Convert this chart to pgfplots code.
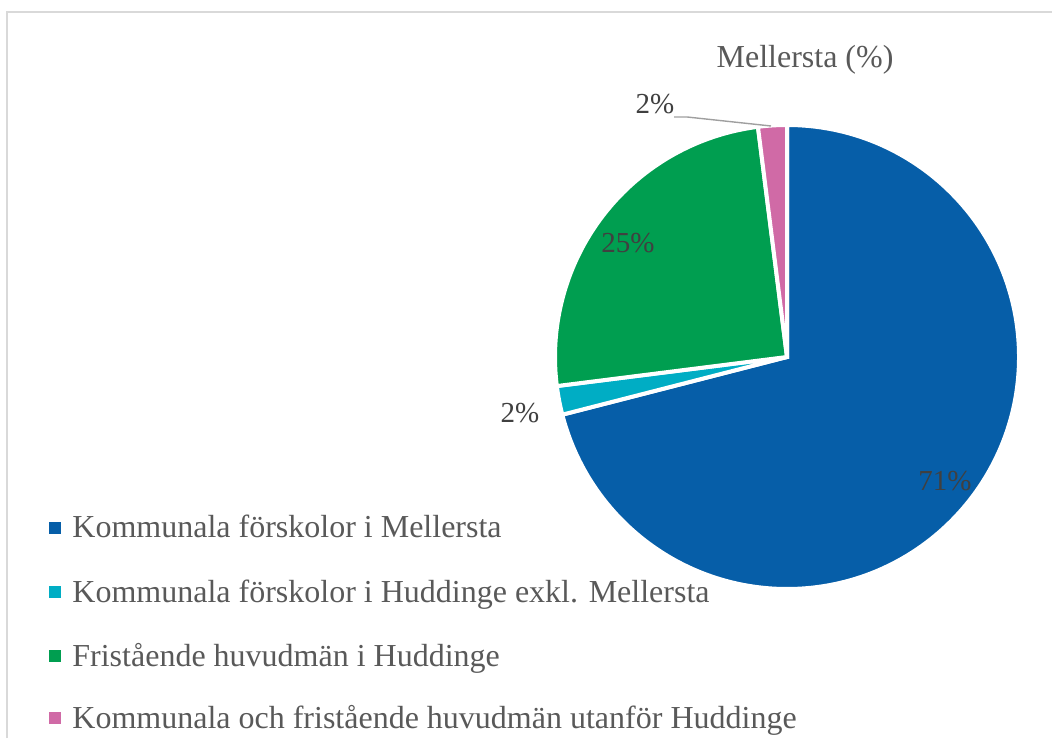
\documentclass[border=0pt]{standalone}
\usepackage{fontspec}
\setmainfont{Liberation Serif}
\usepackage{pgfplots}
\pgfplotsset{compat=1.18}

\definecolor{cA}{HTML}{065EA8}
\definecolor{cB}{HTML}{00ADC4}
\definecolor{cC}{HTML}{009E50}
\definecolor{cD}{HTML}{D06AA6}
\definecolor{txt}{HTML}{595959}
\definecolor{lbl}{HTML}{404040}
\definecolor{frame}{HTML}{D9D9D9}

% shares in percent, clockwise from twelve o'clock
\newcommand\sA{71}
\newcommand\sB{2}
\newcommand\sC{25}
\newcommand\sD{2}

\begin{document}
\begin{tikzpicture}
\begin{axis}[x=0.5pt, y=0.5pt, xmin=0, xmax=1052, ymin=0, ymax=738,
  hide axis, clip=false]
\coordinate (bl) at (axis cs:0,0);
\coordinate (tr) at (axis cs:1052,738);
\draw[frame, line width=1pt] (axis cs:7,0) -- (axis cs:7,726) -- (axis cs:1052,726);

% pie slices
\filldraw[fill=cA, draw=white, line width=2pt] (axis cs:787,381) -- ++(90:116pt)
  arc[start angle=90, end angle={90-3.6*\sA}, radius=116pt] -- cycle;
\filldraw[fill=cB, draw=white, line width=2pt] (axis cs:787,381) -- ++({90-3.6*\sA}:116pt)
  arc[start angle={90-3.6*\sA}, end angle={90-3.6*(\sA+\sB)}, radius=116pt] -- cycle;
\filldraw[fill=cC, draw=white, line width=2pt] (axis cs:787,381) -- ++({90-3.6*(\sA+\sB)}:116pt)
  arc[start angle={90-3.6*(\sA+\sB)}, end angle={90-3.6*(\sA+\sB+\sC)}, radius=116pt] -- cycle;
\filldraw[fill=cD, draw=white, line width=2pt] (axis cs:787,381) -- ++({90-3.6*(\sA+\sB+\sC)}:116pt)
  arc[start angle={90-3.6*(\sA+\sB+\sC)}, end angle=-270, radius=116pt] -- cycle;

% data labels
\begin{scope}[every node/.style={text=lbl, font=\fontsize{14.5}{17}\selectfont, inner sep=0pt}]
\node at (axis cs:945,257) {71\%};
\node at (axis cs:628,495) {25\%};
\node at (axis cs:520,325) {2\%};
\node at (axis cs:655,634) {2\%};
\end{scope}
\draw[gray!75, line width=0.7pt] (axis cs:674,621) -- (axis cs:687,621) -- (axis cs:771,612);

% title
\node[text=txt, font=\fontsize{16}{19}\selectfont, inner sep=0pt] at (axis cs:805,678) {Mellersta (\%)};

% legend
\begin{scope}[every node/.style={text=txt, font=\fontsize{16}{19}\selectfont, inner sep=0pt, anchor=base west}]
\fill[cA] (axis cs:49,204) rectangle (axis cs:61,216);
\node at (axis cs:72,200) {Kommunala förskolor i Mellersta};
\fill[cB] (axis cs:49,140) rectangle (axis cs:61,152);
\node at (axis cs:72,136) {Kommunala förskolor i Huddinge exkl. Mellersta};
\fill[cC] (axis cs:49,76) rectangle (axis cs:61,88);
\node at (axis cs:72,72) {Fristående huvudmän i Huddinge};
\fill[cD] (axis cs:49,14) rectangle (axis cs:61,26);
\node at (axis cs:72,10) {Kommunala och fristående huvudmän utanför Huddinge};
\end{scope}
\end{axis}
\pgfresetboundingbox
\path (bl) rectangle (tr);
\end{tikzpicture}
\end{document}
